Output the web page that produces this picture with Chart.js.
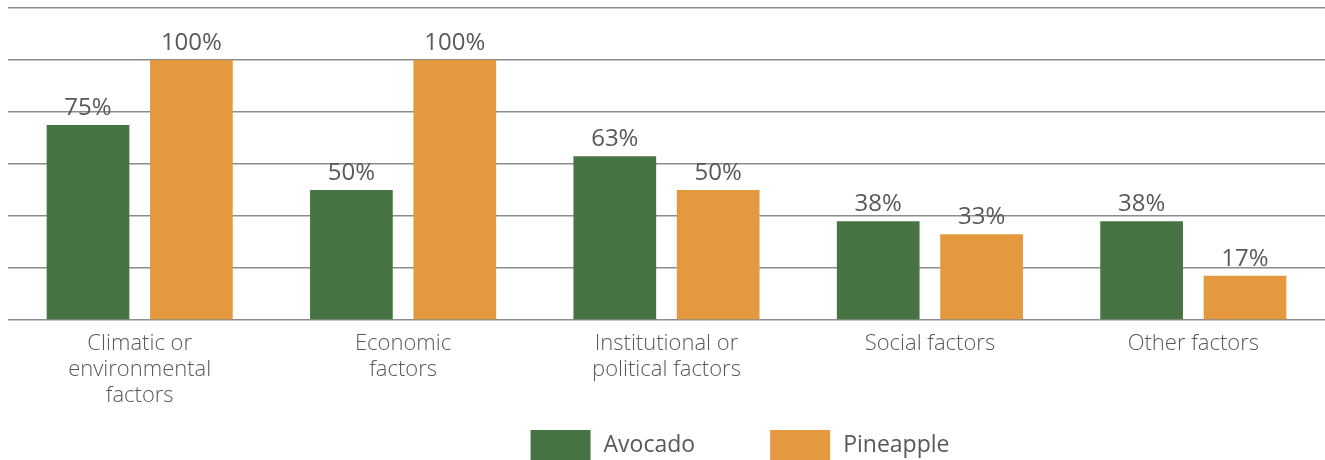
<!DOCTYPE html>
<html>
<head>
<meta charset="utf-8">
<script src="https://cdn.jsdelivr.net/npm/chart.js@4"></script>
<style>
  html, body { margin: 0; padding: 0; background: #fff; }
  #wrap { width: 1325px; height: 460px; }
</style>
</head>
<body>
<div id="wrap"><canvas id="chart"></canvas></div>
<script>
const categories = [
  ["Climatic or", "environmental", "factors"],
  ["Economic", "factors"],
  ["Institutional or", "political factors"],
  "Social factors",
  "Other factors",
];
const avocado = [75, 50, 63, 38, 38];
const pineapple = [100, 100, 50, 33, 17];

const GREEN = "#467543";
const ORANGE = "#e5993e";
const TEXT = "#595959";
const FONT = "'Open Sans', 'Noto Sans', sans-serif";

// draws "NN%" above every bar
const valueLabels = {
  id: "valueLabels",
  afterDatasetsDraw(chart) {
    const ctx = chart.ctx;
    ctx.save();
    ctx.font = `24px ${FONT}`;
    ctx.fillStyle = TEXT;
    ctx.textAlign = "center";
    ctx.textBaseline = "alphabetic";
    chart.data.datasets.forEach((ds, i) => {
      chart.getDatasetMeta(i).data.forEach((bar, j) => {
        ctx.fillText(ds.data[j] + "%", bar.x, bar.y - 10);
      });
    });
    ctx.restore();
  },
};

// legend row along the bottom edge, wider gaps than the built-in one allows
const bottomLegend = {
  id: "bottomLegend",
  afterDraw(chart) {
    const ctx = chart.ctx;
    const box = { w: 60, h: 30 }, gap = 13, itemGap = 75, centerX = 740;
    const top = chart.height - box.h;
    ctx.save();
    ctx.font = `23px ${FONT}`;
    ctx.textBaseline = "middle";
    ctx.textAlign = "left";
    const items = chart.data.datasets.map(ds => ({
      text: ds.label,
      color: ds.backgroundColor,
      width: box.w + gap + ctx.measureText(ds.label).width,
    }));
    const total = items.reduce((s, it) => s + it.width, 0) + itemGap * (items.length - 1);
    let x = centerX - total / 2;
    items.forEach(it => {
      ctx.fillStyle = it.color;
      ctx.fillRect(x, top, box.w, box.h);
      ctx.fillStyle = TEXT;
      ctx.fillText(it.text, x + box.w + gap, top + box.h / 2);
      x += it.width + itemGap;
    });
    ctx.restore();
  },
};

new Chart(document.getElementById("chart"), {
  type: "bar",
  data: {
    labels: categories,
    datasets: [
      { label: "Avocado", data: avocado, backgroundColor: GREEN },
      { label: "Pineapple", data: pineapple, backgroundColor: ORANGE },
    ],
  },
  options: {
    responsive: true,
    maintainAspectRatio: false,
    animation: false,
    datasets: {
      bar: { categoryPercentage: 0.785, barPercentage: 0.8 },
    },
    layout: { padding: { top: 8, left: 8, right: 0, bottom: 48 } },
    scales: {
      x: {
        grid: { display: false },
        border: { display: false },
        ticks: {
          color: TEXT,
          font: { family: FONT, size: 22, weight: 300, lineHeight: 26 / 22 },
          padding: 3,
          maxRotation: 0,
        },
      },
      y: {
        min: 0,
        max: 120,
        ticks: { display: false, stepSize: 20 },
        border: { display: false },
        grid: { color: "#8c8c8c", lineWidth: 1.5, drawTicks: false },
      },
    },
    plugins: {
      legend: { display: false },
      tooltip: { enabled: false },
    },
  },
  plugins: [valueLabels, bottomLegend],
});
</script>
</body>
</html>
